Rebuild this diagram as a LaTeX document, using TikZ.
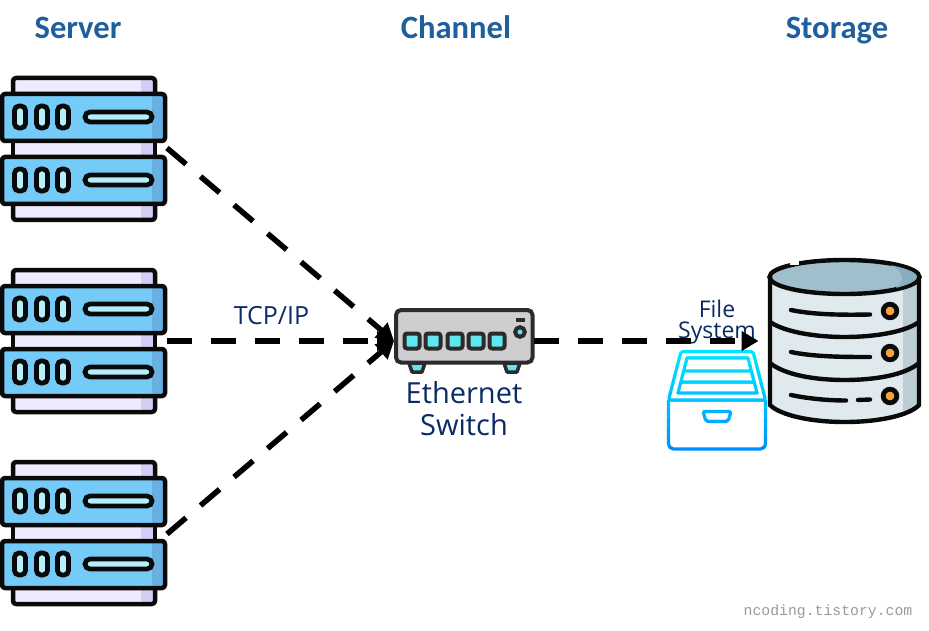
\documentclass[tikz,border=0pt]{standalone}
\usepackage{fontspec}
\setmainfont{Carlito}
\setmonofont{Liberation Mono}
\newfontfamily\labelfont{Open Sans}
\usetikzlibrary{arrows.meta}
\definecolor{titleblue}{HTML}{1F5F9E}
\definecolor{navytext}{HTML}{0B2A66}
\definecolor{lav}{HTML}{EEEAFF}
\definecolor{lavd}{HTML}{D2CEF5}
\definecolor{unitblue}{HTML}{74CBF8}
\definecolor{unitd}{HTML}{68B0E2}
\definecolor{lightcyan}{HTML}{B5F0FA}
\definecolor{ink}{HTML}{0A0A0A}
\definecolor{swgrey}{HTML}{CFCDD0}
\definecolor{swink}{HTML}{2B2B2B}
\definecolor{swcyan}{HTML}{5FE6EE}
\definecolor{dbbody}{HTML}{E0E9EE}
\definecolor{dbshade}{HTML}{BCCDD5}
\definecolor{dbtop}{HTML}{A0BFCC}
\definecolor{dbtopd}{HTML}{86AEBF}
\definecolor{dborange}{HTML}{F7A23B}
\tikzset{
  x=1pt,y=-1pt,
  title/.style={font=\fontsize{32.6}{34}\selectfont\bfseries,text=titleblue,inner sep=0,anchor=base},
  lbl/.style={font=\labelfont\fontsize{29}{32}\selectfont,text=navytext,align=center,inner sep=0},
  lblsmall/.style={font=\labelfont\fontsize{23}{21}\selectfont,text=navytext,align=center,inner sep=0},
  hit/.style={inner sep=0,outer sep=0,minimum width=#1},
  link/.style={line width=5.5pt,draw=black,dash pattern=on 25pt off 19pt,-{Triangle[length=17pt,width=19pt]}},
  rack/.style={line width=4.5pt,draw=ink,rounded corners=3pt,line join=round},
  dbline/.style={line width=4.4pt,draw=ink,line cap=round},
  serverpic/.pic={
    \foreach \yy in {0,63,113}{
      \fill[lav] (13,{\yy+2}) rectangle (155,{\yy+31});
      \fill[lavd] (141,{\yy+2}) rectangle (155,{\yy+31});
    }
    \draw[rack] (13,16) -- (13,2) -- (155,2) -- (155,16);
    \draw[rack] (13,66) -- (13,79) (155,66) -- (155,79);
    \draw[rack] (13,129) -- (13,144) -- (155,144) -- (155,129);
    \foreach \yy in {0,63}{
      \fill[unitblue,rounded corners=3pt] (2,{\yy+18}) rectangle (165,{\yy+65});
      \fill[unitd,rounded corners=3pt] (152,{\yy+19}) rectangle (164,{\yy+64});
      \draw[rack] (2,{\yy+18}) rectangle (165,{\yy+65});
      \foreach \xx in {20,42,63}{
        \draw[line width=4.8pt,draw=ink,fill=lightcyan,rounded corners=4.5pt]
          ({\xx-5.5},{\yy+30}) rectangle ({\xx+5.5},{\yy+52});
      }
      \draw[line width=4.8pt,draw=ink,fill=lightcyan,rounded corners=5pt]
        (85,{\yy+36}) rectangle (152,{\yy+46});
    }
  },
  cabinetshape/.pic={
    \draw[line width=3.2pt,line join=round,rounded corners=2pt,draw=#1]
      (668.5,400) -- (681,351.5) -- (753,351.5) -- (765.5,400) -- cycle;
    \draw[line width=3.2pt,line join=round,draw=#1]
      (678,393) -- (687,358) -- (748,358) -- (757,393) -- cycle
      (683,371) -- (752,371) (680,382) -- (755,382);
    \draw[line width=3.2pt,line join=round,rounded corners=5pt,draw=#1]
      (668.5,400) -- (668.5,449) -- (765.5,449) -- (765.5,400);
    \draw[line width=3.2pt,line join=round,rounded corners=2pt,draw=#1]
      (703,411.5) -- (731,411.5) -- (728,421.5) -- (706,421.5) -- cycle;
  }
}
\begin{document}
\begin{tikzpicture}
\useasboundingbox (0,0) rectangle (929,631);
% titles
\node[title] (tserver) at (78,39) {Server};
\node[title] (tchannel) at (456,39) {Channel};
\node[title] (tstorage) at (837,39) {Storage};
% servers
\pic at (0,76) {serverpic};
\pic at (0,268) {serverpic};
\pic at (0,460) {serverpic};
\node[hit=167pt,minimum height=146pt] (srv1) at (83.5,148) {};
\node[hit=167pt,minimum height=146pt] (srv2) at (83.5,341) {};
\node[hit=167pt,minimum height=146pt] (srv3) at (83.5,534) {};
% switch
\node[hit=140pt,minimum height=65pt] (sw) at (464,341) {};
\foreach \xx in {409,504}{
  \draw[line width=3.5pt,draw=swink,fill=swcyan,line join=round]
    (\xx,363) -- ({\xx+3},372) -- ({\xx+13},372) -- ({\xx+16},363) -- cycle;
}
\draw[line width=4pt,draw=swink,fill=swgrey,rounded corners=5pt] (396,310) rectangle (532.5,362.5);
\foreach \xx in {412,433,455,476,497}{
  \draw[line width=4pt,draw=swink,fill=swcyan,rounded corners=2.5pt] ({\xx-7.5},333.5) rectangle ({\xx+7.5},348.5);
}
\fill[swink] (516,318) rectangle (525,322);
\draw[line width=4pt,draw=swink,fill=swcyan] (520,332) circle (4.8);
% storage
\node[hit=154pt,minimum height=165pt] (db) at (844.5,341) {};
\fill[dbbody] (770,277) -- (770,405) .. controls (780,415) and (810,421) .. (844.5,421)
  .. controls (880,421) and (910,415) .. (919,405) -- (919,277) -- cycle;
\fill[dbshade] (903,285) -- (903,412) .. controls (910,410) and (915,408) .. (919,405) -- (919,277) -- cycle;
\draw[line width=4.4pt,draw=ink,fill=dbtop] (844.5,277) ellipse (75 and 17);
\fill[dbtopd] (890,265) .. controls (905,268) and (917,272) .. (917,277) .. controls (917,281) and (908,285) .. (896,288)
  .. controls (905,280) and (905,272) .. (890,265) -- cycle;
\fill[white] (790,257) rectangle (799,264.5);
\draw[dbline] (770,277) -- (770,405) .. controls (780,415) and (810,422) .. (844.5,422)
  .. controls (880,422) and (910,415) .. (919,405) -- (919,277);
\draw[dbline] (770,322) .. controls (785,332) and (815,337) .. (844.5,337) .. controls (875,337) and (905,332) .. (919,322);
\draw[dbline] (770,363) .. controls (785,375) and (815,380) .. (844.5,380) .. controls (875,380) and (905,375) .. (919,363);
\foreach \yy/\ff in {311/dborange,353/dborange,396/dborange}{
  \draw[line width=4.8pt,draw=ink,fill=\ff] (890,\yy) circle (6.8);
}
\draw[dbline] (791,310) .. controls (815,315) and (845,315) .. (870,314.5);
\draw[dbline] (791,352) .. controls (815,357) and (845,357) .. (870,357);
\draw[dbline] (791,395) .. controls (810,399) and (830,400.5) .. (846,400.5);
\draw[dbline] (858,400) -- (870,399.5);
% file cabinet, gradient from cyan to blue
\foreach \i/\col in {0/00E6FF,1/00E0FF,2/00D9FF,3/00D2FF,4/00CBFF,5/00C3FF,6/00BBFF,7/00B2FF,8/00A9FF,9/00A0FF,10/0097FF,11/008EFF}{
  \begin{scope}
    \definecolor{bandcol}{HTML}{\col}
    \clip (660,{347+\i*9}) rectangle (775,{356+\i*9});
    \pic {cabinetshape=bandcol};
  \end{scope}
}
% labels
\node[lbl,font=\labelfont\fontsize{25}{27}\selectfont] (tcp) at (271.5,316) {TCP/IP};
\node[lbl] (swlabel) at (464,409) {Ethernet\\Switch};
\node[lblsmall] (fslabel) at (717,322) {File\\System};
% connectors
\draw[link] (srv1.east) -- (sw.west);
\draw[link] (srv2.east) -- (sw.west);
\draw[link] (srv3.east) -- (sw.west);
\draw[link,shorten >=9pt] (sw.east) -- (db.west);
% watermark
\node[font=\ttfamily\fontsize{14.8}{16}\selectfont,text=black!40,inner sep=0] (mark) at (828,612) {ncoding.tistory.com};
\end{tikzpicture}
\end{document}
